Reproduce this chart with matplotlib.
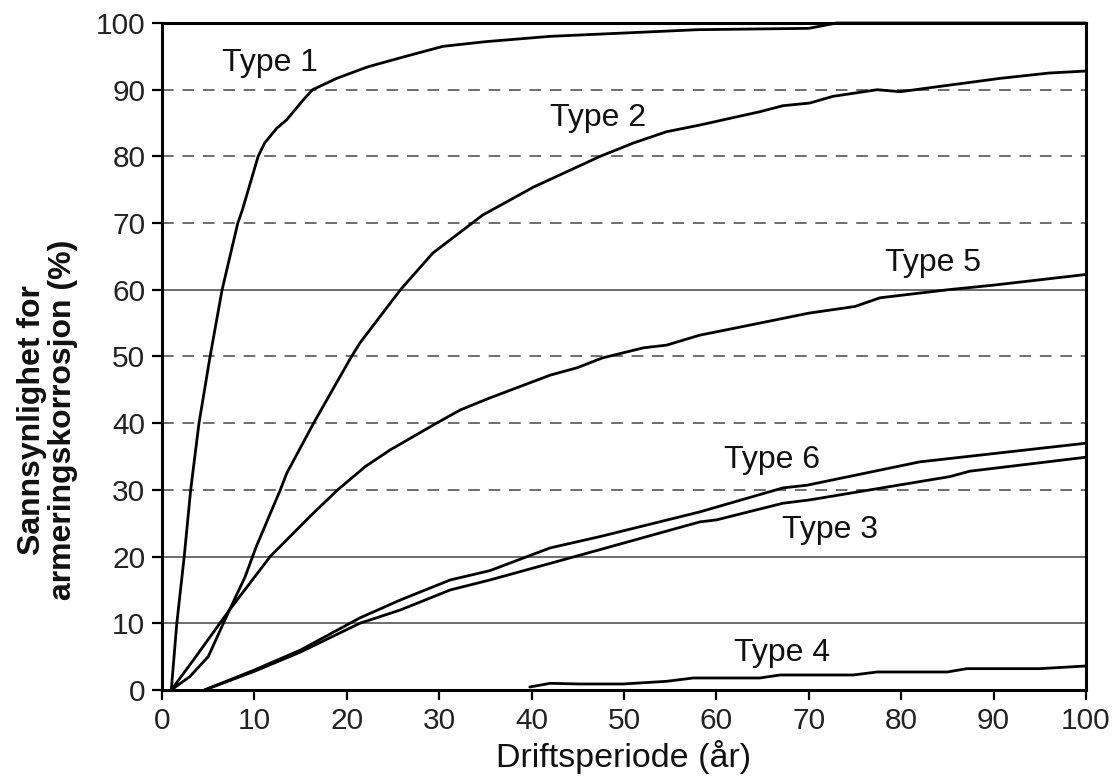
import matplotlib
matplotlib.use("Agg")
import matplotlib.pyplot as plt

plt.rcParams['font.family'] = ['Liberation Sans', 'DejaVu Sans']

# Probability curves (x = years in service, y = probability in %)
type1_x = [1.0, 1.6, 2.4, 3.1, 4.0, 5.2, 6.5, 8.2, 8.7, 10.4, 11.1, 12.4, 13.5, 15.3,
           16.3, 18.9, 22.2, 26.1, 30.4, 35, 42, 50, 58, 70, 73, 100]
type1_y = [0, 10, 20, 30, 40, 50, 60, 70, 72, 80, 82, 84.2, 85.5, 88.5,
           90, 91.7, 93.4, 94.9, 96.5, 97.2, 98, 98.5, 99, 99.2, 100, 100]

type2_x = [1.0, 3, 5, 7.3, 9, 10.2, 12.8, 13.5, 16.4, 20.3, 21.4, 25.8, 29.3, 34.7,
           40.2, 47.4, 51, 54.6, 58.2, 64.7, 67.2, 70.1, 72.6, 77.4, 79.9, 84.2,
           90.7, 96, 100]
type2_y = [0, 2, 5, 12, 17, 21.5, 30, 32.5, 40, 49.5, 52, 60, 65.5, 71.2,
           75.4, 80, 82, 83.7, 84.7, 86.7, 87.6, 88, 89, 90, 89.7, 90.5,
           91.7, 92.5, 92.8]

type5_x = [1.0, 3.4, 7.3, 11.7, 16, 19, 22, 24.7, 29.7, 32.3, 35.5, 42, 44.9, 47.7,
           52.1, 54.6, 58.2, 63.6, 70, 75, 77.7, 85, 90, 95, 100]
type5_y = [0, 4.5, 12, 20, 26, 30, 33.5, 36, 40, 42, 43.8, 47.2, 48.3, 49.8,
           51.3, 51.7, 53.2, 54.7, 56.5, 57.5, 58.8, 60, 60.7, 61.5, 62.3]

type6_x = [4.6, 10, 15, 21.4, 25.8, 31.2, 35.5, 42, 47.4, 58.2, 67.2, 69.8, 82, 100]
type6_y = [0, 3, 6, 10.8, 13.5, 16.5, 17.9, 21.3, 23, 26.7, 30.3, 30.7, 34.2, 37]

type3_x = [4.6, 10, 15, 21.4, 25.8, 31.2, 35.5, 45.2, 58.2, 60, 67.2, 70.1, 85.3,
           87.4, 100]
type3_y = [0, 2.8, 5.7, 10, 12, 15, 16.5, 20.2, 25.2, 25.5, 28, 28.5, 32, 32.8, 34.9]

type4_x = [39.8, 42, 45.2, 49.9, 54.6, 57.5, 64.7, 66.9, 74.8, 77.4, 85, 87.1, 95, 100]
type4_y = [0.45, 1, 0.9, 0.9, 1.3, 1.8, 1.8, 2.25, 2.25, 2.7, 2.7, 3.2, 3.2, 3.6]

series = [
    (type1_x, type1_y), (type2_x, type2_y), (type5_x, type5_y),
    (type6_x, type6_y), (type3_x, type3_y), (type4_x, type4_y),
]

labels = ["Type 1", "Type 2", "Type 5", "Type 6", "Type 3", "Type 4"]
label_pos = [(11.7, 94), (47.2, 85.8), (83.4, 64), (66.0, 34.5), (72.3, 24.0), (67.1, 5.5)]

solid_grid = [10, 20, 60]
dashed_grid = [30, 40, 50, 70, 80, 90]

fig = plt.figure(figsize=(11.19, 7.80), dpi=100)
ax = fig.add_axes([0.1448, 0.1154, 0.8257, 0.8551])

for g in solid_grid:
    ax.axhline(g, color='#6e6e6e', lw=1.4, zorder=1)
for g in dashed_grid:
    ax.axhline(g, color='#6e6e6e', lw=1.4, dashes=(6, 4.5), zorder=1)

for x, y in series:
    ax.plot(x, y, color='black', lw=2.0, zorder=3, clip_on=False,
            solid_joinstyle='round', solid_capstyle='round')

for text, (tx, ty) in zip(labels, label_pos):
    ax.text(tx, ty, text, ha='center', va='center', fontsize=23, color='#111111',
            zorder=4)

ax.set_xlim(0, 100)
ax.set_ylim(0, 100)
ax.set_xticks(range(0, 101, 10))
ax.set_yticks(range(0, 101, 10))
ax.tick_params(direction='out', length=7, width=1.6, labelsize=21.5, colors='black',
               labelcolor='#222222', pad=5)
for s in ax.spines.values():
    s.set_linewidth(2.2)
    s.set_color('black')

ax.set_xlabel("Driftsperiode (år)", fontsize=24.5, color='#111111')
ax.xaxis.set_label_coords(0.5, -0.1, transform=ax.transAxes)
ax.xaxis.label.set_va('center')
ax.set_ylabel("Sannsynlighet for\narmeringskorrosjon (%)", fontsize=23,
              fontweight='bold', color='#111111', linespacing=1.05)
ax.yaxis.set_label_coords(-0.124, 0.405, transform=ax.transAxes)
ax.yaxis.label.set_va('center')

fig.savefig("out.png", dpi=100)
